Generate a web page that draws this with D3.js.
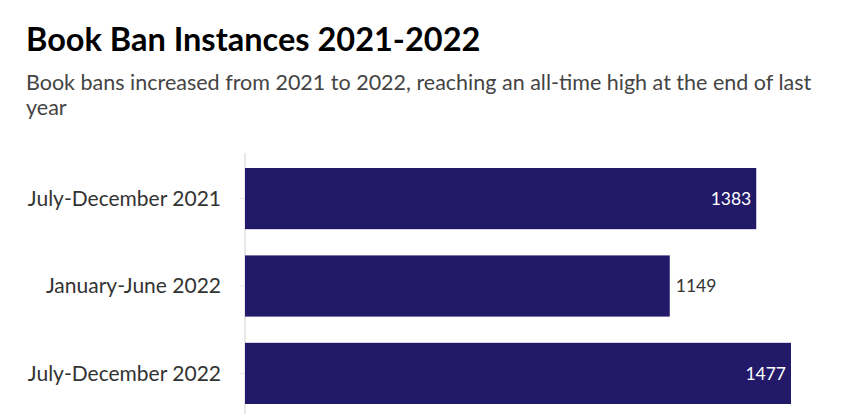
<!DOCTYPE html>
<html>
<head>
<meta charset="utf-8">
<script src="https://cdn.jsdelivr.net/npm/d3@7"></script>
<style>
  body { margin: 0; background: #fff; }
  text { font-family: Lato, "Open Sans", sans-serif; }
</style>
</head>
<body>
<div id="chart"></div>
<script>
const categories = ["July-December 2021", "January-June 2022", "July-December 2022"];
const values = [1383, 1149, 1477];
const titleText = "Book Ban Instances 2021-2022";
const subtitleLines = [
    "Book bans increased from 2021 to 2022, reaching an all-time high at the end of last",
    "year"
];

const width = 855;
const height = 414;

const svg = d3.select("#chart")
    .append("svg")
    .attr("width", width)
    .attr("height", height);

// header
svg.append("text")
    .attr("x", 26)
    .attr("y", 51)
    .style("font-size", "32.5px")
    .style("font-weight", "bold")
    .attr("fill", "#000")
    .text(titleText);

svg.append("text")
    .attr("fill", "#444")
    .style("font-size", "21.5px")
    .selectAll("tspan")
    .data(subtitleLines)
    .enter().append("tspan")
    .attr("x", 26)
    .attr("y", (d, i) => 90 + i * 25)
    .text(d => d);

const x = d3.scaleLinear()
    .domain([0, d3.max(values)])
    .range([245, 791]);

const y = d3.scaleBand()
    .domain(categories)
    .range([168, 404])
    .paddingInner(0.3)
    .paddingOuter(0);

// axis line + small ticks
svg.append("line")
    .attr("x1", 245).attr("x2", 245)
    .attr("y1", 153).attr("y2", height)
    .attr("stroke", "#e8e8e8")
    .attr("stroke-width", 2);

svg.selectAll(".tick")
    .data(categories)
    .enter().append("line")
    .attr("class", "tick")
    .attr("x1", 240).attr("x2", 245)
    .attr("y1", d => y(d) + y.bandwidth() / 2)
    .attr("y2", d => y(d) + y.bandwidth() / 2)
    .attr("stroke", "#e8e8e8");

// category labels
svg.selectAll(".cat-label")
    .data(categories)
    .enter().append("text")
    .attr("class", "cat-label")
    .attr("x", 221)
    .attr("y", d => y(d) + y.bandwidth() / 2)
    .attr("dy", "0.35em")
    .attr("text-anchor", "end")
    .attr("fill", "#333")
    .style("font-size", "21px")
    .text(d => d);

const data = categories.map((c, i) => ({ name: c, value: values[i] }));

svg.selectAll(".bar")
    .data(data)
    .enter().append("rect")
    .attr("class", "bar")
    .attr("x", x(0))
    .attr("y", d => y(d.name))
    .attr("width", d => x(d.value) - x(0))
    .attr("height", y.bandwidth())
    .attr("fill", "#221968");

// value labels: inside when the bar is long enough
const insideMin = 1300;
svg.selectAll(".val-label")
    .data(data)
    .enter().append("text")
    .attr("class", "val-label")
    .attr("x", d => d.value >= insideMin ? x(d.value) - 5 : x(d.value) + 6)
    .attr("y", d => y(d.name) + y.bandwidth() / 2)
    .attr("dy", "0.35em")
    .attr("text-anchor", d => d.value >= insideMin ? "end" : "start")
    .attr("fill", d => d.value >= insideMin ? "#fff" : "#333")
    .style("font-size", "17.5px")
    .text(d => d.value);
</script>
</body>
</html>
